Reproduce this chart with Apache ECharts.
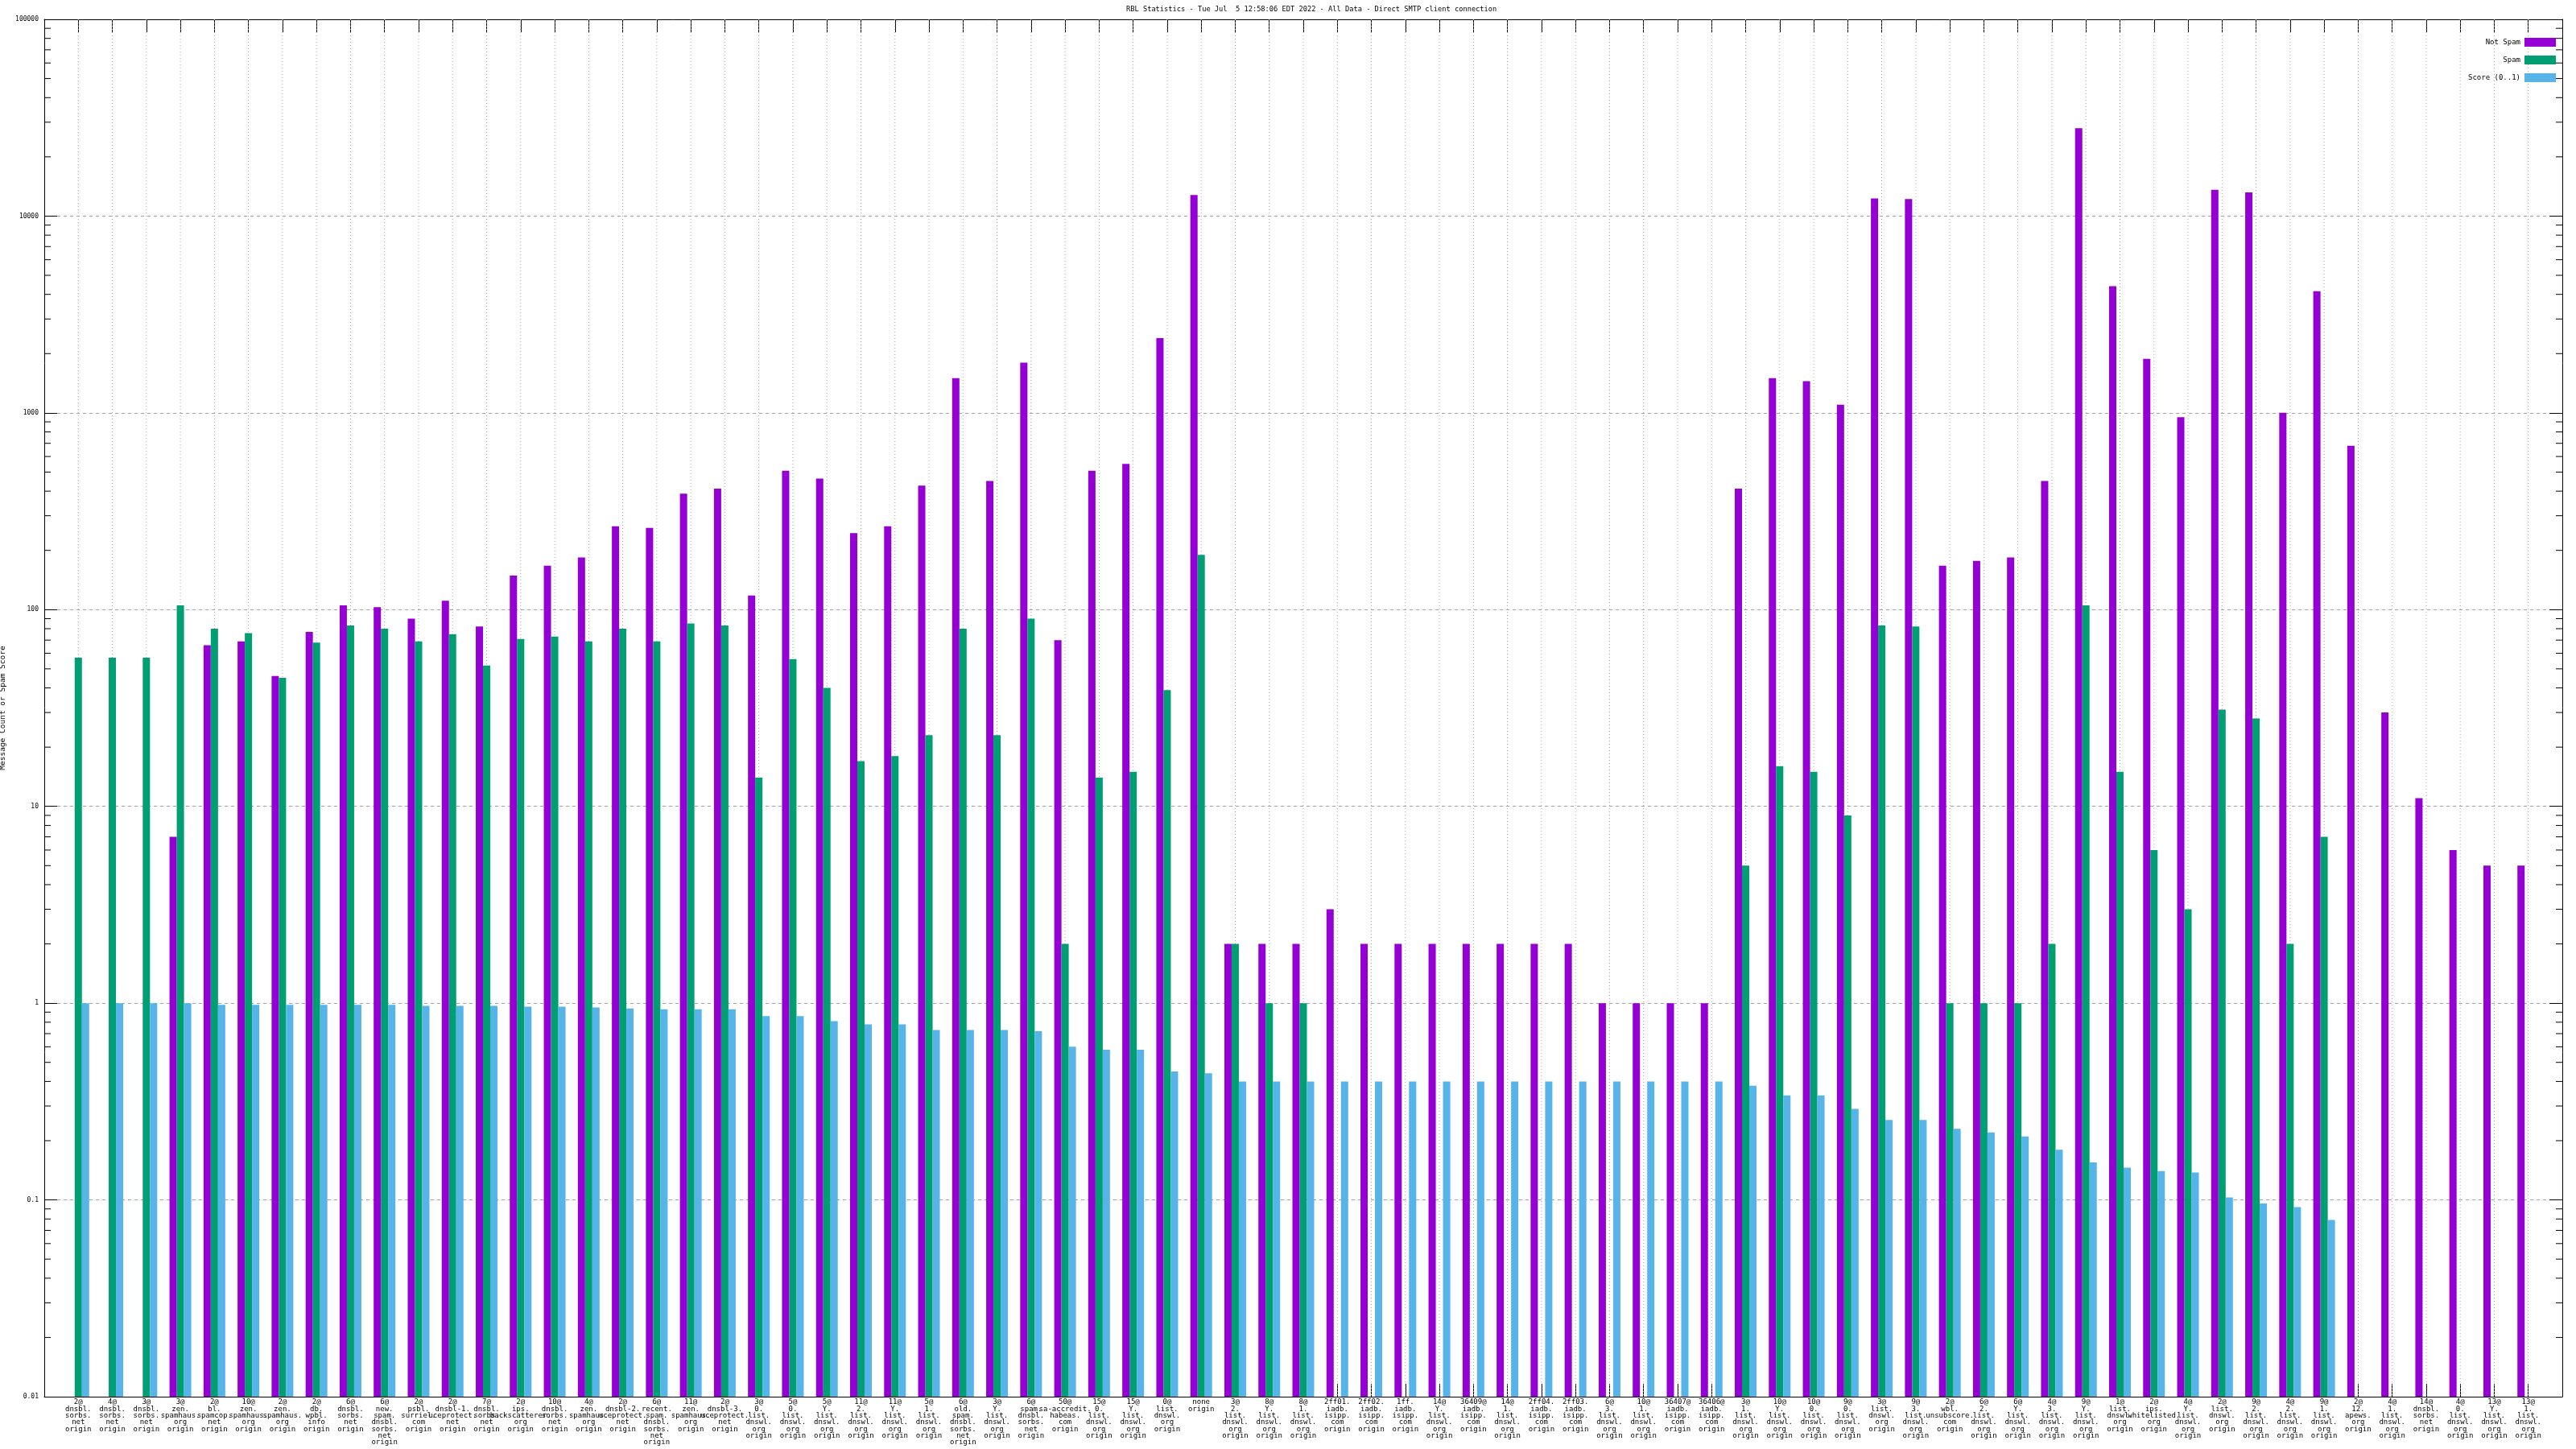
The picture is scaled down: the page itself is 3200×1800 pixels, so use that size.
<!DOCTYPE html>
<html>
<head>
<meta charset="utf-8">
<script src="https://cdn.jsdelivr.net/npm/echarts@6/dist/echarts.min.js"></script>
<style>
html,body{margin:0;padding:0;background:#fff;}
#chart{width:3200px;height:1800px;}
</style>
</head>
<body>
<div id="chart"></div>
<script>
// ---------- data ----------
const titleText = 'RBL Statistics - Tue Jul  5 12:58:06 EDT 2022 - All Data - Direct SMTP client connection';
const yAxisTitle = 'Message Count or Spam Score';
const seriesNames = ['Not Spam', 'Spam', 'Score (0..1)'];

const categories = [
  '2@ dnsbl. sorbs. net origin',
  '4@ dnsbl. sorbs. net origin',
  '3@ dnsbl. sorbs. net origin',
  '3@ zen. spamhaus. org origin',
  '2@ bl. spamcop. net origin',
  '10@ zen. spamhaus. org origin',
  '2@ zen. spamhaus. org origin',
  '2@ db. wpbl. info origin',
  '6@ dnsbl. sorbs. net origin',
  '6@ new. spam. dnsbl. sorbs. net origin',
  '2@ psbl. surriel. com origin',
  '2@ dnsbl-1. uceprotect. net origin',
  '7@ dnsbl. sorbs. net origin',
  '2@ ips. backscatterer. org origin',
  '10@ dnsbl. sorbs. net origin',
  '4@ zen. spamhaus. org origin',
  '2@ dnsbl-2. uceprotect. net origin',
  '6@ recent. spam. dnsbl. sorbs. net origin',
  '11@ zen. spamhaus. org origin',
  '2@ dnsbl-3. uceprotect. net origin',
  '3@ 0. list. dnswl. org origin',
  '5@ 0. list. dnswl. org origin',
  '5@ Y. list. dnswl. org origin',
  '11@ 2. list. dnswl. org origin',
  '11@ Y. list. dnswl. org origin',
  '5@ 1. list. dnswl. org origin',
  '6@ old. spam. dnsbl. sorbs. net origin',
  '3@ Y. list. dnswl. org origin',
  '6@ spam. dnsbl. sorbs. net origin',
  '50@ sa-accredit. habeas. com origin',
  '15@ 0. list. dnswl. org origin',
  '15@ Y. list. dnswl. org origin',
  '0@ list. dnswl. org origin',
  'none origin',
  '3@ 2. list. dnswl. org origin',
  '8@ Y. list. dnswl. org origin',
  '8@ 1. list. dnswl. org origin',
  '2ff01. iadb. isipp. com origin',
  '2ff02. iadb. isipp. com origin',
  '1ff. iadb. isipp. com origin',
  '14@ Y. list. dnswl. org origin',
  '36409@ iadb. isipp. com origin',
  '14@ 1. list. dnswl. org origin',
  '2ff04. iadb. isipp. com origin',
  '2ff03. iadb. isipp. com origin',
  '6@ 3. list. dnswl. org origin',
  '10@ 1. list. dnswl. org origin',
  '36407@ iadb. isipp. com origin',
  '36406@ iadb. isipp. com origin',
  '3@ 1. list. dnswl. org origin',
  '10@ Y. list. dnswl. org origin',
  '10@ 0. list. dnswl. org origin',
  '9@ 0. list. dnswl. org origin',
  '3@ list. dnswl. org origin',
  '9@ 3. list. dnswl. org origin',
  '2@ wbl. unsubscore. com origin',
  '6@ 2. list. dnswl. org origin',
  '6@ Y. list. dnswl. org origin',
  '4@ 3. list. dnswl. org origin',
  '9@ Y. list. dnswl. org origin',
  '1@ list. dnswl. org origin',
  '2@ ips. whitelisted. org origin',
  '4@ Y. list. dnswl. org origin',
  '2@ list. dnswl. org origin',
  '9@ 2. list. dnswl. org origin',
  '4@ 2. list. dnswl. org origin',
  '9@ 1. list. dnswl. org origin',
  '2@ 12. apews. org origin',
  '4@ 1. list. dnswl. org origin',
  '14@ dnsbl. sorbs. net origin',
  '4@ 0. list. dnswl. org origin',
  '13@ Y. list. dnswl. org origin',
  '13@ 1. list. dnswl. org origin'
];

const notSpam = [
  '-', '-', '-', 7, 66, 69, 46, 77, 105, 103,
  90, 111, 82, 149, 167, 184, 265, 260, 388, 412,
  118, 508, 463, 245, 265, 427, 1500, 451, 1800, 70,
  508, 550, 2400, 12800, 2, 2, 2, 3, 2, 2,
  2, 2, 2, 2, 2, 1, 1, 1, 1, 412,
  1500, 1450, 1100, 12300, 12200, 167, 177, 184, 451, 28000,
  4400, 1880, 950, 13600, 13200, 1000, 4150, 680, 30, 11,
  6, 5, 5
];

const spam = [
  57, 57, 57, 105, 80, 76, 45, 68, 83, 80,
  69, 75, 52, 71, 73, 69, 80, 69, 85, 83,
  14, 56, 40, 17, 18, 23, 80, 23, 90, 2,
  14, 15, 39, 190, 2, 1, 1, '-', '-', '-',
  '-', '-', '-', '-', '-', '-', '-', '-', '-', 5,
  16, 15, 9, 83, 82, 1, 1, 1, 2, 105,
  15, 6, 3, 31, 28, 2, 7, '-', '-', '-',
  '-', '-', '-'
];

const score = [
  1, 1, 1, 1, 0.98, 0.98, 0.98, 0.98, 0.98, 0.98,
  0.97, 0.97, 0.97, 0.96, 0.96, 0.95, 0.94, 0.93, 0.93, 0.93,
  0.86, 0.86, 0.81, 0.78, 0.78, 0.73, 0.73, 0.73, 0.72, 0.6,
  0.58, 0.58, 0.45, 0.44, 0.4, 0.4, 0.4, 0.4, 0.4, 0.4,
  0.4, 0.4, 0.4, 0.4, 0.4, 0.4, 0.4, 0.4, 0.4, 0.38,
  0.34, 0.34, 0.29, 0.255, 0.255, 0.23, 0.22, 0.21, 0.18, 0.155,
  0.146, 0.14, 0.138, 0.103, 0.096, 0.092, 0.079, '-', '-', '-',
  '-', '-', '-'
];

const yTickLabels = ['0.01', '0.1', '1', '10', '100', '1000', '10000', '100000'];
const yMin = 0.01, yMax = 100000;

// ---------- build ----------
const colors = ['#9400D3', '#009E73', '#56B4E9'];
const mono = 'DejaVu Sans Mono';
// one empty slot on each side (gnuplot x range padding)
const xData = [''].concat(categories.map(s => s.split(' ').join('\n')), ['']);
const pad = arr => ['-'].concat(arr, ['-']);
const gridIdx = categories.map((c, i) => [i + 1, 1]);

function yLabel(v) {
  const e = Math.round(Math.log10(v));
  return yTickLabels[e + 2] !== undefined ? yTickLabels[e + 2] : '';
}

const chart = echarts.init(document.getElementById('chart'), null, {renderer: 'canvas'});

const barCommon = {
  type: 'bar', barWidth: 9, barGap: '0%', xAxisIndex: 0, yAxisIndex: 0, z: 3
};

const option = {
  animation: false,
  backgroundColor: '#ffffff',
  title: {
    text: titleText,
    left: 1399, top: 7, padding: 0,
    textStyle: {fontFamily: mono, fontSize: 8.7, fontWeight: 'normal', color: '#000'}
  },
  legend: {
    data: seriesNames,
    orient: 'vertical',
    right: 25, top: 47,
    align: 'right',
    itemWidth: 39, itemHeight: 11, itemGap: 11,
    icon: 'rect',
    padding: 0,
    textStyle: {fontFamily: mono, fontSize: 9, color: '#000'}
  },
  grid: {left: 55, right: 17, top: 24, bottom: 65, containLabel: false, outerBoundsMode: 'none'},
  xAxis: [
    {
      type: 'category', data: xData, boundaryGap: false, position: 'bottom',
      axisLine: {show: true, lineStyle: {color: '#000', width: 1}},
      axisTick: {show: true, inside: true, length: 16, interval: 0, lineStyle: {color: '#000'}},
      axisLabel: {interval: 0, margin: 3, fontFamily: mono, fontSize: 9, lineHeight: 8.3, color: '#000', align: 'center', verticalAlign: 'top', hideOverlap: false},
      splitLine: {show: false}
    },
    {
      type: 'category', data: xData, boundaryGap: false, position: 'top',
      axisLine: {show: true, lineStyle: {color: '#000', width: 1}},
      axisTick: {show: true, inside: true, length: 16, interval: 0, lineStyle: {color: '#000'}},
      axisLabel: {show: false},
      splitLine: {show: false}
    }
  ],
  yAxis: [
    {
      type: 'log', logBase: 10, min: yMin, max: yMax, splitNumber: 7, startValue: yMin,
      position: 'left',
      name: yAxisTitle, nameLocation: 'middle', nameGap: 37, nameRotate: 90,
      nameTextStyle: {fontFamily: mono, fontSize: 9.5, color: '#000'},
      axisLine: {show: true, lineStyle: {color: '#000', width: 1}},
      axisTick: {show: true, inside: true, length: 16, lineStyle: {color: '#000'}},
      axisLabel: {margin: 7, fontFamily: mono, fontSize: 8, color: '#000', formatter: yLabel},
      splitLine: {show: true, lineStyle: {color: '#a0a0a0', type: [4, 4], width: 1}},
      minorTick: {show: false}
    },
    {
      type: 'log', logBase: 10, min: yMin, max: yMax, splitNumber: 7,
      position: 'right',
      axisLine: {show: true, lineStyle: {color: '#000', width: 1}},
      axisTick: {show: true, inside: true, length: 16, lineStyle: {color: '#000'}},
      axisLabel: {show: false},
      splitLine: {show: false}
    }
  ],
  series: [
    Object.assign({}, barCommon, {name: seriesNames[0], data: pad(notSpam), itemStyle: {color: colors[0]}}),
    Object.assign({}, barCommon, {name: seriesNames[1], data: pad(spam), itemStyle: {color: colors[1]}}),
    Object.assign({}, barCommon, {name: seriesNames[2], data: pad(score), itemStyle: {color: colors[2]}}),
    {
      // vertical dotted grid at each category
      type: 'custom', name: 'vgrid', xAxisIndex: 0, yAxisIndex: 0, z: 1, silent: true,
      encode: {x: 0, y: 1},
      data: gridIdx,
      renderItem: function (params, api) {
        const cs = params.coordSys;
        const x = api.coord([api.value(0), 1])[0];
        return {
          type: 'line',
          shape: {x1: x, y1: cs.y, x2: x, y2: cs.y + cs.height},
          style: {stroke: '#a8a8a8', lineWidth: 1, lineDash: [1, 3]}
        };
      }
    },
    {
      // log minor ticks on left and right borders
      type: 'custom', name: 'minor', xAxisIndex: 0, yAxisIndex: 0, z: 0, silent: true,
      encode: {x: 0, y: 1},
      data: [[1, 1]],
      renderItem: function (params, api) {
        const cs = params.coordSys;
        const children = [];
        for (let e = -2; e <= 4; e++) {
          for (let m = 2; m <= 9; m++) {
            const v = m * Math.pow(10, e);
            const y = api.coord([1, v])[1];
            children.push({type: 'line', shape: {x1: cs.x, y1: y, x2: cs.x + 8, y2: y}, style: {stroke: '#000', lineWidth: 1}});
            children.push({type: 'line', shape: {x1: cs.x + cs.width - 8, y1: y, x2: cs.x + cs.width, y2: y}, style: {stroke: '#000', lineWidth: 1}});
          }
        }
        return {type: 'group', children: children};
      }
    }
  ]
};

chart.setOption(option);
</script>
</body>
</html>
